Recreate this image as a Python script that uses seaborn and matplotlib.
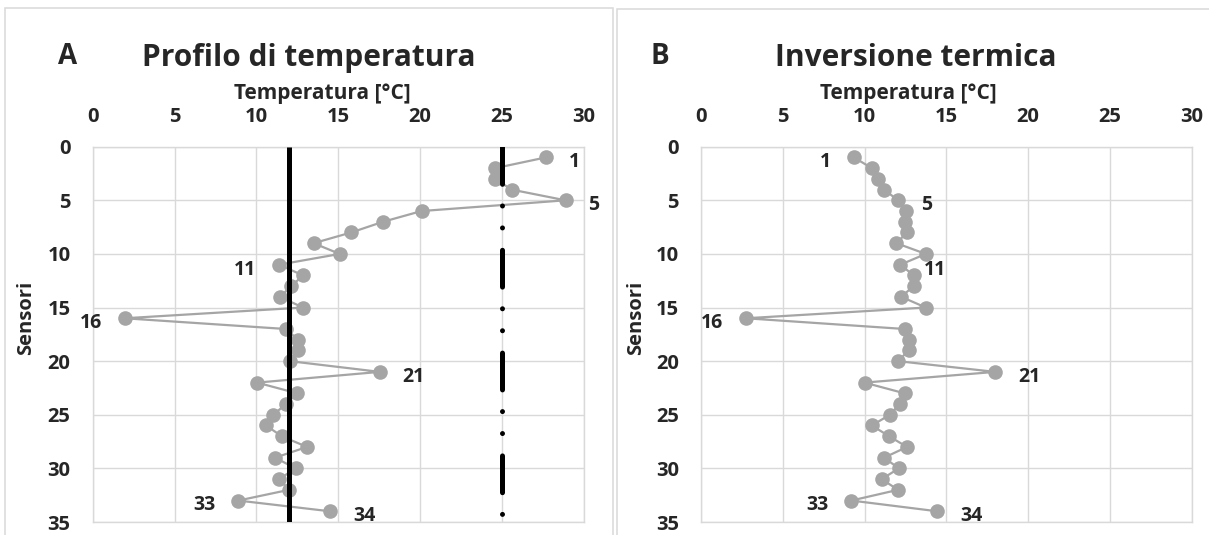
import matplotlib
matplotlib.use("Agg")
import matplotlib.pyplot as plt
import seaborn as sns
import pandas as pd
from matplotlib.patches import Rectangle

# ---------------- data ----------------
sensors = list(range(1, 35))
temp_profile = [27.7, 24.6, 24.6, 25.6, 28.9, 20.1, 17.75, 15.8, 13.5, 15.1,
                11.4, 12.85, 12.15, 11.45, 12.85, 1.95, 11.8, 12.55, 12.55, 12.05,
                17.55, 10.05, 12.5, 11.8, 11.05, 10.6, 11.55, 13.1, 11.15, 12.4,
                11.4, 12.0, 8.9, 14.5]
temp_inversion = [9.35, 10.45, 10.85, 11.2, 12.05, 12.55, 12.5, 12.6, 11.95, 13.75,
                  12.2, 13.0, 13.0, 12.25, 13.75, 2.75, 12.45, 12.75, 12.7, 12.05,
                  18.0, 10.0, 12.45, 12.15, 11.55, 10.45, 11.5, 12.6, 11.2, 12.1,
                  11.05, 12.05, 9.2, 14.45]
ref_solid_temp = [12, 12]
ref_dash_temp = [25, 25]
ref_span = [0, 35]
label_sensors = [1, 5, 11, 16, 21, 33, 34]
profile_label_side = ["right", "right", "left", "left", "right", "left", "right"]
inversion_label_side = ["left", "right", "right", "left", "right", "left", "right"]
x_ticks = [0, 5, 10, 15, 20, 25, 30]
y_ticks = [0, 5, 10, 15, 20, 25, 30, 35]

# ---------------- style ----------------
sns.set_style("white")
plt.rcParams["font.family"] = ["Open Sans", "DejaVu Sans"]
plt.rcParams["font.weight"] = "bold"
plt.rcParams["lines.scale_dashes"] = False

W, H = 1209, 535
fig = plt.figure(figsize=(W / 100, H / 100), dpi=100)
fig.patch.set_facecolor("white")

GRAY = "#A5A5A5"
GRID = "#D9D9D9"


def px_axes(x0, x1, ytop, ybot):
    return fig.add_axes([x0 / W, (H - ybot) / H, (x1 - x0) / W, (ybot - ytop) / H])


# chart frames
fig.add_artist(Rectangle((5 / W, -0.1), (613 - 5) / W, (H - 8) / H + 0.1,
                         transform=fig.transFigure, fill=False, edgecolor=GRID, lw=1.1))
fig.add_artist(Rectangle((617 / W, -0.1), 0.6, (H - 9) / H + 0.1,
                         transform=fig.transFigure, fill=False, edgecolor=GRID, lw=1.1))

axL = px_axes(92.7, 583.5, 146.7, 522)
axR = px_axes(701.0, 1191.5, 146.7, 522)


def draw_panel(ax, temps, sides, letter, title, letter_x, title_x, xlabel_x, sens_x, show_refs):
    df = pd.DataFrame({"Temperatura": temps, "Sensori": sensors})
    sns.lineplot(data=df, x="Temperatura", y="Sensori", orient="y", sort=False,
                 estimator=None, errorbar=None, color=GRAY, linewidth=1.6,
                 marker="o", markersize=10.5, markeredgewidth=0, ax=ax, zorder=3)
    if show_refs:
        ax.plot(ref_solid_temp, ref_span, color="black", lw=3.6,
                solid_capstyle="butt", zorder=4)
        ax.plot(ref_dash_temp, ref_span, color="black", lw=3.6,
                dashes=[26.5, 15.6, 0.01, 15.8, 0.01, 16.1],
                dash_capstyle="round", zorder=4)
    ax.set_xlim(0, 30)
    ax.set_ylim(35, 0)
    ax.set_xticks(x_ticks)
    ax.set_yticks(y_ticks)
    ax.xaxis.tick_top()
    ax.tick_params(axis="x", length=0, pad=14, labelsize=14.5)
    ax.tick_params(axis="y", length=0, pad=16, labelsize=14.5)
    for lab in ax.get_xticklabels() + ax.get_yticklabels():
        lab.set_fontweight("bold")
    ax.grid(True, color=GRID, lw=1.0)
    ax.set_axisbelow(True)
    for s in ax.spines.values():
        s.set_color(GRID)
        s.set_linewidth(1.0)
    ax.set_xlabel("")
    ax.set_ylabel("")
    ax.text(xlabel_x, 1.1277, "Temperatura [°C]", transform=ax.transAxes,
            ha="center", va="baseline", fontsize=15, fontweight="bold")
    ax.text(sens_x, 0.5426, "Sensori", transform=ax.transAxes, rotation=90,
            ha="center", va="center", fontsize=14.5, fontweight="bold")
    ax.text(title_x, 1.2154, title, transform=ax.transAxes,
            ha="center", va="baseline", fontsize=21.5, fontweight="bold")
    ax.text(letter_x, 1.2207, letter, transform=ax.transAxes,
            ha="center", va="baseline", fontsize=20, fontweight="bold")
    for s_id, side in zip(label_sensors, sides):
        t = temps[s_id - 1]
        off = 16.5 if side == "right" else -16.5
        ax.annotate(str(s_id), (t, s_id), xytext=(off, -3.5), textcoords="offset points",
                    ha="left" if side == "right" else "right", va="center",
                    fontsize=14, fontweight="bold", zorder=5, annotation_clip=False)


draw_panel(axL, temp_profile, profile_label_side, "A", "Profilo di temperatura",
           -0.0503, 0.4407, 0.4672, -0.136, True)
draw_panel(axR, temp_inversion, inversion_label_side, "B", "Inversione termica",
           -0.0836, 0.4383, 0.422, -0.1325, False)

fig.savefig("out.png", dpi=100, facecolor="white")
